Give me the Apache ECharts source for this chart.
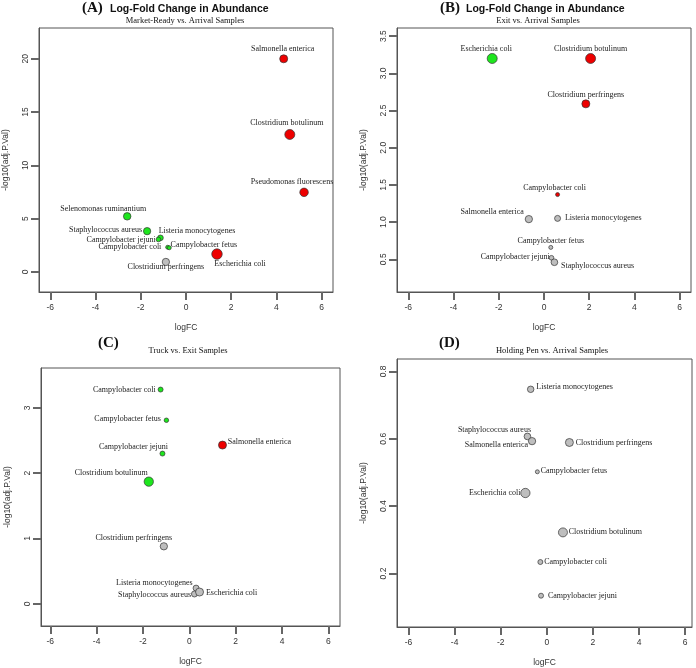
<!DOCTYPE html>
<html>
<head>
<meta charset="utf-8">
<script src="https://cdn.jsdelivr.net/npm/echarts@6/dist/echarts.min.js"></script>
<style>
html, body { margin: 0; padding: 0; background: #fff; }
#main { width: 696px; height: 668px; }
</style>
</head>
<body>
<div id="main"></div>
<script>
// (A) Market-Ready vs. Arrival
var aSpecies = ['Salmonella enterica', 'Clostridium botulinum', 'Pseudomonas fluorescens', 'Selenomonas ruminantium',
  'Staphylococcus aureus', 'Listeria monocytogenes', 'Campylobacter jejuni', 'Campylobacter coli',
  'Campylobacter fetus', 'Clostridium perfringens', 'Escherichia coli'];
var aLogFC = [4.32, 4.59, 5.22, -2.60, -1.72, -1.13, -1.22, -0.81, -0.74, -0.89, 1.37];
var aNegLogP = [20.0, 12.9, 7.47, 5.22, 3.83, 3.2, 3.05, 2.32, 2.27, 0.94, 1.68];

// (B) Exit vs. Arrival
var bSpecies = ['Escherichia coli', 'Clostridium botulinum', 'Clostridium perfringens', 'Campylobacter coli',
  'Salmonella enterica', 'Listeria monocytogenes', 'Campylobacter fetus', 'Campylobacter jejuni', 'Staphylococcus aureus'];
var bLogFC = [-2.29, 2.06, 1.85, 0.60, -0.67, 0.60, 0.30, 0.33, 0.46];
var bNegLogP = [3.20, 3.20, 2.59, 1.37, 1.04, 1.05, 0.66, 0.52, 0.46];

// (C) Truck vs. Exit
var cSpecies = ['Campylobacter coli', 'Campylobacter fetus', 'Campylobacter jejuni', 'Salmonella enterica',
  'Clostridium botulinum', 'Clostridium perfringens', 'Listeria monocytogenes', 'Staphylococcus aureus', 'Escherichia coli'];
var cLogFC = [-1.24, -0.99, -1.16, 1.43, -1.75, -1.10, 0.29, 0.22, 0.44];
var cNegLogP = [3.28, 2.81, 2.30, 2.43, 1.87, 0.88, 0.24, 0.15, 0.18];

// (D) Holding Pen vs. Arrival
var dSpecies = ['Listeria monocytogenes', 'Staphylococcus aureus', 'Salmonella enterica', 'Clostridium perfringens',
  'Campylobacter fetus', 'Escherichia coli', 'Clostridium botulinum', 'Campylobacter coli', 'Campylobacter jejuni'];
var dLogFC = [-0.70, -0.84, -0.64, 0.98, -0.41, -0.93, 0.70, -0.28, -0.25];
var dNegLogP = [0.747, 0.607, 0.593, 0.589, 0.502, 0.439, 0.322, 0.234, 0.134];

var xTicks = [-6, -4, -2, 0, 2, 4, 6];

// marker diameters (px)
var aSize = [8, 10, 8.5, 7.5, 7.3, 5.7, 4.7, 4, 4, 7.3, 10.5];
var bSize = [10, 10, 8, 4, 7.3, 6, 4, 4.7, 6.7];
var cSize = [5, 4.5, 5, 8, 9.3, 7.3, 6, 6, 8];
var dSize = [6.5, 6.7, 7.3, 8, 4, 9.3, 9, 5, 5];

// label placement: [side, dx, dy]
var aLabel = [['top', -1, 0], ['top', -3, 0], ['top', -12, 0], ['top', -24, 3], ['left', 1, -1], ['right', -7, -7],
  ['left', 2, 0], ['left', -2, 0], ['right', -3, -3], ['bottom', 0, -5], ['bottom', 23, -2]];
var bLabel = [['top', -6, 2], ['top', 0, 2], ['top', 0, 1], ['top', -3, 2], ['left', 1, -7], ['right', 2, 0],
  ['top', 0, 2], ['left', 3, -1], ['right', 1, 4]];
var cLabel = [['left', 0, 0], ['left', -1, -1], ['top', -29, 2], ['right', -1, -3], ['left', 6, -9], ['top', -30, 2],
  ['left', 2, -5], ['left', 2, 1], ['right', 0, 1]];
var dLabel = [['right', 0, -2], ['top', -33, 3], ['left', 2, 4], ['right', 0, 0], ['right', -1, -1], ['left', 2, 0],
  ['right', -1, 0], ['right', -1, 0], ['right', 2, 0]];

var SIG = -Math.log10(0.05);
var serif = '"Liberation Serif", "Times New Roman", serif';
var sans = '"Liberation Sans", Arial, sans-serif';

function pointColor(fc, p) {
  if (p < SIG) return '#bebebe';
  return fc > 0 ? '#ee0000' : '#1ee61e';
}

function buildData(names, fc, p, size, lab) {
  return names.map(function (n, i) {
    return {
      name: n,
      value: [fc[i], p[i]],
      symbolSize: size[i],
      itemStyle: { color: pointColor(fc[i], p[i]) },
      label: { position: lab[i][0], offset: [lab[i][1], lab[i][2]] }
    };
  });
}

function xAxisFor(i, min, max) {
  return {
    type: 'value', gridIndex: i, min: min, max: max,
    name: 'logFC', nameLocation: 'middle', nameGap: 31,
    nameTextStyle: { fontFamily: sans, fontSize: 8.5, color: '#333' },
    axisLine: { show: true, onZero: false, lineStyle: { color: '#555' } },
    axisTick: { show: true, length: 8, customValues: xTicks, lineStyle: { color: '#666', width: 2 } },
    axisLabel: { customValues: xTicks, margin: 11, fontFamily: sans, fontSize: 8.5, color: '#333' },
    splitLine: { show: false }
  };
}

function yAxisFor(i, min, max, ticks, digits) {
  return {
    type: 'value', gridIndex: i, min: min, max: max,
    name: '-log10(adj.P.Val)', nameLocation: 'middle', nameGap: 29,
    nameTextStyle: { fontFamily: sans, fontSize: 8.5, color: '#333' },
    axisLine: { show: true, onZero: false, lineStyle: { color: '#555' } },
    axisTick: { show: true, length: 8, customValues: ticks, lineStyle: { color: '#666', width: 2 } },
    axisLabel: {
      customValues: ticks, rotate: 90, margin: 9, fontFamily: sans, fontSize: 8.5, color: '#333',
      formatter: function (v) { return v.toFixed(digits); }
    },
    splitLine: { show: false }
  };
}

function seriesFor(i, data) {
  return {
    type: 'scatter', xAxisIndex: i, yAxisIndex: i, data: data,
    itemStyle: { borderColor: '#333', borderWidth: 0.7, opacity: 1 },
    label: {
      show: true, distance: 2, formatter: '{b}',
      fontFamily: serif, fontSize: 8, color: '#222'
    },
    emphasis: { disabled: true },
    z: 3
  };
}

function txt(x, y, text, font, align) {
  return {
    type: 'text', x: x, y: y,
    style: { text: text, font: font, fill: '#111', align: align || 'left', verticalAlign: 'middle' }
  };
}

var myChart = echarts.init(document.getElementById('main'));

var option = {
  backgroundColor: '#fff',
  animation: false,
  grid: [
    { left: 39, top: 28, width: 294, height: 264, show: true, borderColor: '#555' },
    { left: 397, top: 28, width: 294, height: 264, show: true, borderColor: '#555' },
    { left: 41, top: 368, width: 299, height: 258, show: true, borderColor: '#555' },
    { left: 397, top: 359, width: 295, height: 268, show: true, borderColor: '#555' }
  ],
  xAxis: [
    xAxisFor(0, -6.5, 6.5),
    xAxisFor(1, -6.5, 6.5),
    xAxisFor(2, -6.4, 6.5),
    xAxisFor(3, -6.5, 6.3)
  ],
  yAxis: [
    yAxisFor(0, -1.88, 22.89, [0, 5, 10, 15, 20], 0),
    yAxisFor(1, 0.06, 3.61, [0.5, 1, 1.5, 2, 2.5, 3, 3.5], 1),
    yAxisFor(2, -0.34, 3.61, [0, 1, 2, 3], 0),
    yAxisFor(3, 0.041, 0.837, [0.2, 0.4, 0.6, 0.8], 1)
  ],
  series: [
    seriesFor(0, buildData(aSpecies, aLogFC, aNegLogP, aSize, aLabel)),
    seriesFor(1, buildData(bSpecies, bLogFC, bNegLogP, bSize, bLabel)),
    seriesFor(2, buildData(cSpecies, cLogFC, cNegLogP, cSize, cLabel)),
    seriesFor(3, buildData(dSpecies, dLogFC, dNegLogP, dSize, dLabel))
  ],
  graphic: [
    txt(82, 8, '(A)', 'bold 15px ' + serif),
    txt(110, 9, 'Log-Fold Change in Abundance', 'bold 10.5px ' + sans),
    txt(185, 21, 'Market-Ready vs. Arrival Samples', '8.5px ' + serif, 'center'),
    txt(440, 8, '(B)', 'bold 15px ' + serif),
    txt(466, 9, 'Log-Fold Change in Abundance', 'bold 10.5px ' + sans),
    txt(538, 21, 'Exit vs. Arrival Samples', '8.5px ' + serif, 'center'),
    txt(98, 343, '(C)', 'bold 15px ' + serif),
    txt(188, 351, 'Truck vs. Exit Samples', '8.5px ' + serif, 'center'),
    txt(439, 343, '(D)', 'bold 15px ' + serif),
    txt(552, 351, 'Holding Pen vs. Arrival Samples', '8.5px ' + serif, 'center')
  ]
};

myChart.setOption(option);
</script>
</body>
</html>
